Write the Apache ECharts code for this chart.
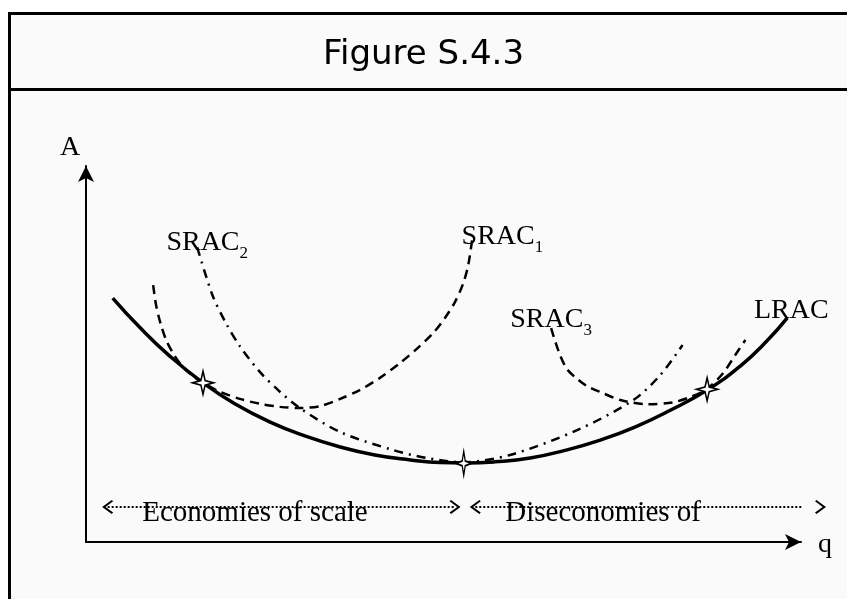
<!DOCTYPE html>
<html>
<head>
<meta charset="utf-8">
<script src="https://cdn.jsdelivr.net/npm/echarts@6/dist/echarts.min.js"></script>
<style>
    html, body { margin: 0; padding: 0; background: #fff; }
    #chart { width: 847px; height: 599px; }
</style>
</head>
<body>
<div id="chart"></div>
<script>
// curves, [q, A] in axis units (0..99 / 0..98.5)
const lracCurve = [
    [3.7, 63.9], [7.5, 56.1], [11.6, 48.7], [16.2, 41.7], [20.6, 36.2], [25.5, 31.4],
    [30.3, 27.8], [35.2, 24.9], [40.0, 22.8], [44.9, 21.5], [49.0, 20.8], [52.5, 20.7],
    [56.6, 21.0], [61.5, 22.0], [66.3, 24.0], [71.2, 26.7], [76.0, 30.1], [80.9, 34.5],
    [86.0, 39.8], [90.6, 46.1], [94.3, 52.7], [97.1, 58.7],
];
const srac1Curve = [
    [9.3, 67.3], [9.7, 62.1], [10.3, 57.4], [11.1, 52.9], [12.2, 49.0], [13.4, 45.9],
    [14.8, 43.5], [16.2, 41.7], [18.6, 39.3], [21.3, 37.5], [24.1, 36.2], [26.9, 35.4],
    [29.6, 35.1], [32.4, 35.6], [35.2, 37.5], [37.9, 39.8], [40.7, 43.0], [43.5, 46.9],
    [45.8, 50.6], [48.1, 54.8], [49.7, 58.7], [51.1, 62.9], [52.2, 67.6], [52.9, 72.3], [53.5, 79.6],
];
const srac2Curve = [
    [15.4, 77.2], [17.5, 64.7], [19.3, 57.6], [21.3, 51.3], [24.1, 44.5], [26.6, 39.8],
    [29.6, 35.1], [35.2, 28.8], [42.5, 24.1], [47.2, 22.0], [52.2, 20.9], [58.7, 22.8],
    [68.0, 29.3], [75.8, 37.2], [79.5, 43.7], [82.6, 51.6],
];
const srac3Curve = [
    [64.4, 56.0], [65.0, 52.4], [65.7, 48.7], [66.6, 45.3], [67.9, 42.9], [69.4, 40.8],
    [71.2, 39.3], [74.0, 37.2], [77.7, 36.1], [81.3, 36.6], [83.7, 38.0], [86.0, 40.1],
    [88.2, 44.2], [89.9, 49.0], [91.3, 52.9],
];
// tangency points
const tangentPoints = [[16.2, 41.7], [52.3, 20.6], [86.0, 40.0]];
// economies / diseconomies ranges
const rangeArrows = [[3.0, 51.1], [53.9, 101.7]];
const rangeArrowLevel = 9.2;
const rangeNames = ['Economies of scale', 'Diseconomies of'];
const rangeNamePos = [[23.4, 7.5], [71.6, 7.5]];

const serif = 'Liberation Serif';
const starPath = 'path://M0,-10 L2,-2 L10,0 L2,2 L0,10 L-2,2 L-10,0 L-2,-2 Z';
const chevron = 'path://M0,0 L7,8 L5.6,9.2 L0,2.8 L-5.6,9.2 L-7,8 Z';

const subRich = {
    m: { fontFamily: serif, fontSize: 28, color: '#000', padding: [0, 0, 6, 0] },
    s: { fontFamily: serif, fontSize: 17, color: '#000', verticalAlign: 'bottom' },
};

const curveLabel = (point, text, dx, dy) => ({
    value: point,
    label: { show: true, position: 'top', formatter: text, offset: [dx, dy], rich: subRich },
});

const rangeSeries = rangeArrows.map((r) => ({
    type: 'line',
    data: [
        { value: [r[0], rangeArrowLevel], symbolRotate: 90 },
        { value: [r[1], rangeArrowLevel], symbolRotate: -90 },
    ],
    clip: false,
    symbol: chevron,
    symbolSize: [14, 11],
    showSymbol: true,
    itemStyle: { color: '#000' },
    lineStyle: { color: '#000', width: 2, type: 'dotted' },
    z: 5,
}));

const chart = echarts.init(document.getElementById('chart'));

chart.setOption({
    animation: false,
    backgroundColor: '#fff',
    title: {
        text: 'Figure S.4.3',
        left: 'center',
        top: 33,
        textStyle: { fontFamily: 'DejaVu Sans', fontSize: 34, fontWeight: 'normal', color: '#000' },
    },
    graphic: [
        {
            type: 'rect',
            z: -10,
            silent: true,
            shape: { x: 9.5, y: 13.5, width: 900, height: 700 },
            style: { fill: '#fafafa', stroke: '#000', lineWidth: 3 },
        },
        {
            type: 'line',
            z: -9,
            silent: true,
            shape: { x1: 9, y1: 89.5, x2: 900, y2: 89.5 },
            style: { stroke: '#000', lineWidth: 3 },
        },
    ],
    grid: { left: 86, right: 46, top: 166, bottom: 57 },
    xAxis: {
        type: 'value',
        min: 0,
        max: 99,
        name: 'q',
        nameLocation: 'end',
        nameGap: 17,
        nameTextStyle: { fontFamily: serif, fontSize: 28, color: '#000', align: 'left', verticalAlign: 'top', lineHeight: 6 },
        axisLine: {
            show: true,
            onZero: false,
            symbol: ['none', 'arrow'],
            symbolSize: [12, 16],
            lineStyle: { color: '#000', width: 2 },
        },
        axisTick: { show: false },
        axisLabel: { show: false },
        splitLine: { show: false },
    },
    yAxis: {
        type: 'value',
        min: 0,
        max: 98.5,
        name: 'A',
        nameLocation: 'end',
        nameGap: 4,
        nameTextStyle: { fontFamily: serif, fontSize: 28, color: '#000', padding: [0, 32, 0, 0] },
        axisLine: {
            show: true,
            onZero: false,
            symbol: ['none', 'arrow'],
            symbolSize: [12, 16],
            lineStyle: { color: '#000', width: 2 },
        },
        axisTick: { show: false },
        axisLabel: { show: false },
        splitLine: { show: false },
    },
    series: [
        {
            name: 'SRAC1',
            type: 'line',
            data: srac1Curve,
            smooth: 0.3,
            showSymbol: false,
            lineStyle: { color: '#000', width: 2.5, type: [9, 6] },
            z: 3,
        },
        {
            name: 'SRAC2',
            type: 'line',
            data: srac2Curve,
            smooth: 0.3,
            showSymbol: false,
            lineStyle: { color: '#000', width: 2.5, type: [9, 6, 2, 6] },
            z: 3,
        },
        {
            name: 'SRAC3',
            type: 'line',
            data: srac3Curve,
            smooth: 0.3,
            showSymbol: false,
            lineStyle: { color: '#000', width: 2.5, type: [9, 6] },
            z: 3,
        },
        {
            name: 'LRAC',
            type: 'line',
            data: lracCurve,
            smooth: 0.5,
            showSymbol: false,
            lineStyle: { color: '#000', width: 3.5 },
            z: 4,
        },
        {
            name: 'tangency',
            type: 'scatter',
            data: tangentPoints.map((p, i) => ({ value: p, symbolSize: i === 1 ? [15, 24] : [21, 23] })),
            symbol: starPath,
            itemStyle: { color: '#fff', borderColor: '#000', borderWidth: 1.6, opacity: 1 },
            z: 6,
        },
        {
            name: 'curveNames',
            type: 'scatter',
            symbolSize: 0,
            itemStyle: { opacity: 1 },
            data: [
                curveLabel(srac2Curve[0], '{m|SRAC}{s|2}', 10, 20),
                curveLabel(srac1Curve[srac1Curve.length - 1], '{m|SRAC}{s|1}', 30, 23),
                curveLabel(srac3Curve[0], '{m|SRAC}{s|3}', 0, 16),
                curveLabel(lracCurve[lracCurve.length - 1], '{m|LRAC}', 4, 18),
            ],
            z: 7,
        },
        {
            name: 'ranges',
            type: 'scatter',
            symbolSize: 0,
            itemStyle: { opacity: 1 },
            data: rangeNamePos.map((p, i) => ({ value: p, name: rangeNames[i] })),
            label: {
                show: true,
                position: 'inside',
                formatter: '{b}',
                fontFamily: serif,
                fontSize: 29,
                color: '#000',
            },
            z: 5,
        },
        ...rangeSeries,
    ],
});
</script>
</body>
</html>
